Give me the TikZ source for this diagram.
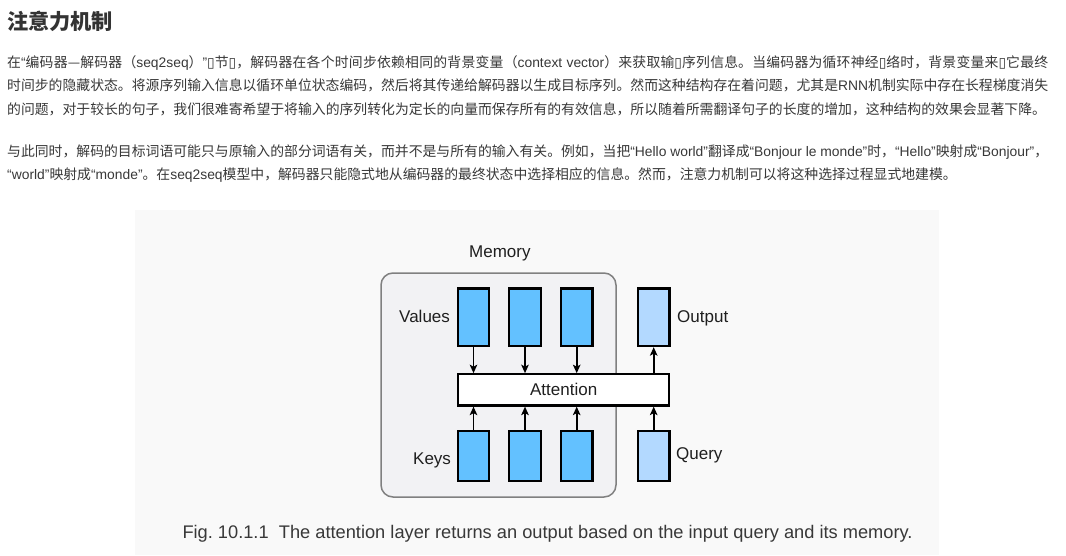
\documentclass[tikz,border=0pt]{standalone}
\usepackage{fontspec}
\usetikzlibrary{arrows.meta}
\setmainfont{Noto Sans CJK SC}
\newfontfamily\latfont{Liberation Sans}
\newfontfamily\tofufont{DejaVu Sans}
\XeTeXlinebreaklocale "zh"
\XeTeXlinebreakskip=0pt plus 1pt minus 0.2pt
\frenchspacing
\definecolor{bleu}{HTML}{63C1FF}
\definecolor{bleuclair}{HTML}{B3D9FF}
\definecolor{fond}{HTML}{F9F9F9}
\definecolor{memoire}{HTML}{F2F2F4}
\definecolor{bord}{HTML}{808080}
\definecolor{texte}{HTML}{383838}
\definecolor{titre}{HTML}{333333}
\newcommand{\lat}[1]{{\latfont #1}}
\newcommand{\tofu}{{\tofufont ▯}}
\newcommand{\ligne}[1]{\parbox[b]{1041pt}{\tolerance=9999\hbadness=10000\parfillskip=0pt #1}}
\begin{document}
\begin{tikzpicture}[x=1pt,y=-1pt]
% Styles (MODIFIABLES)
\tikzstyle{fleche}=[-{Stealth[length=8.5pt,width=7.5pt,inset=2pt]},line width=1.8pt]
\tikzstyle{case}=[draw,line width=2.2pt,fill=bleu,minimum width=31.5pt,inner sep=0pt]
\tikzstyle{valeur}=[case,minimum height=57.5pt]
\tikzstyle{cle}=[case,minimum height=50.3pt]
\tikzstyle{claire}=[fill=bleuclair]
\tikzstyle{etiquette}=[anchor=base west,inner sep=0pt,font=\latfont\fontsize{17}{17}\selectfont,text=black!88]
\tikzstyle{corps}=[anchor=base west,inner sep=0pt,font=\fontsize{13.85}{16}\selectfont,text=texte]
% Cadre
\useasboundingbox (0,0) rectangle (1066,555);
\fill[white] (0,0) rectangle (1066,555);
\fill[fond] (135,210) rectangle (939,555);
% Texte
\node[corps,font=\bfseries\fontsize{21.2}{24}\selectfont,text=titre] (titre) at (7,29.2) {注意力机制};
\node[corps] (l1) at (7,67) {\ligne{在\lat{“}编码器—解码器（\lat{seq2seq}）\lat{”}\tofu 节\tofu ，解码器在各个时间步依赖相同的背景变量（\lat{context vector}）来获取输\tofu 序列信息。当编码器为循环神经\tofu 络时，背景变量来\tofu 它最终}};
\node[corps] (l2) at (7,90.7) {\ligne{时间步的隐藏状态。将源序列输入信息以循环单位状态编码，然后将其传递给解码器以生成目标序列。然而这种结构存在着问题，尤其是\lat{RNN}机制实际中存在长程梯度消失}};
\node[corps] (l3) at (7,114.4) {的问题，对于较长的句子，我们很难寄希望于将输入的序列转化为定长的向量而保存所有的有效信息，所以随着所需翻译句子的长度的增加，这种结构的效果会显著下降。};
\node[corps] (l4) at (7,156) {\ligne{与此同时，解码的目标词语可能只与原输入的部分词语有关，而并不是与所有的输入有关。例如，当把\lat{“Hello world”}翻译成\lat{“Bonjour le monde”}时，\lat{“Hello”}映射成\lat{“Bonjour”}，}};
\node[corps] (l5) at (7,179.6) {\lat{“world”}映射成\lat{“monde”}。在\lat{seq2seq}模型中，解码器只能隐式地从编码器的最终状态中选择相应的信息。然而，注意力机制可以将这种选择过程显式地建模。};
% Noeuds
\node[draw=bord,line width=1.5pt,fill=memoire,rounded corners=12pt,minimum width=235pt,minimum height=224pt] (mem) at (498.5,385) {};
\node[etiquette] (lmem) at (469,257.7) {Memory};
\node[valeur] (v1) at (473.5,317.3) {};
\node[valeur] (v2) at (525,317.3) {};
\node[valeur] (v3) at (576.7,317.3) {};
\node[valeur,claire] (out) at (653.7,317.3) {};
\node[cle] (k1) at (473.5,455.9) {};
\node[cle] (k2) at (525,455.9) {};
\node[cle] (k3) at (576.7,455.9) {};
\node[cle,claire] (query) at (653.7,455.9) {};
\node[draw,line width=2.2pt,fill=white,minimum width=211.3pt,minimum height=31.2pt,inner sep=0pt,font=\latfont\fontsize{17}{17}\selectfont,text=black!88] (att) at (563.7,389.9) {Attention};
\node[etiquette] (lval) at (399,322.3) {Values};
\node[etiquette] (lout) at (677,322.3) {Output};
\node[etiquette] (lkey) at (413,464.5) {Keys};
\node[etiquette] (lque) at (676,459.3) {Query};
\node[etiquette,font=\latfont\fontsize{18.25}{18}\selectfont,text=texte] (legende) at (182.3,538.3) {Fig. 10.1.1\ \ The attention layer returns an output based on the input query and its memory.};
% Arcs
\draw[fleche] (v1) -- (v1 |- att.north);
\draw[fleche] (v2) -- (v2 |- att.north);
\draw[fleche] (v3) -- (v3 |- att.north);
\draw[fleche] (out |- att.north) -- (out);
\draw[fleche] (k1) -- (k1 |- att.south);
\draw[fleche] (k2) -- (k2 |- att.south);
\draw[fleche] (k3) -- (k3 |- att.south);
\draw[fleche] (query) -- (query |- att.south);
\end{tikzpicture}
\end{document}
